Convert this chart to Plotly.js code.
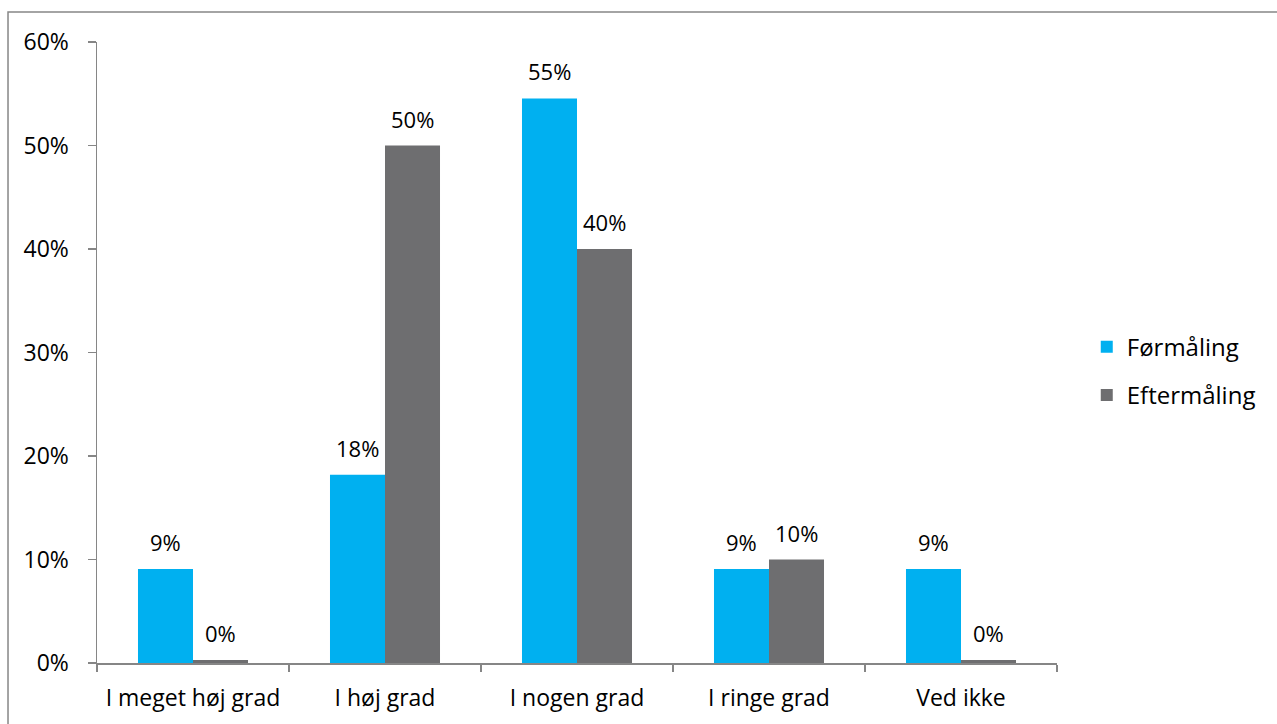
<!DOCTYPE html>
<html>
<head>
<meta charset="utf-8">
<script src="https://cdn.plot.ly/plotly-3.0.1.min.js"></script>
<style>
  html, body { margin: 0; padding: 0; background: #fff; }
  #chart { width: 1277px; height: 724px; }
</style>
</head>
<body>
<div id="chart"></div>
<script>
const categories = ["I meget høj grad", "I høj grad", "I nogen grad", "I ringe grad", "Ved ikke"];
const formaaling = [9.09, 18.18, 54.55, 9.09, 9.09];
const eftermaaling = [0.3, 50, 40, 10, 0.3];
const seriesNames = ["Førmåling", "Eftermåling"];
const yTickVals = [0, 10, 20, 30, 40, 50, 60];
const yTickText = ["0%", "10%", "20%", "30%", "40%", "50%", "60%"];

const FONT = "Open Sans, Liberation Sans, sans-serif";
const colors = ["#00B0F0", "#6E6E70"];

const traces = [
  { type: "bar", name: seriesNames[0], x: categories, y: formaaling,
    marker: { color: colors[0] }, legendgroup: "a", hoverinfo: "skip" },
  { type: "bar", name: seriesNames[1], x: categories, y: eftermaaling,
    marker: { color: colors[1] }, legendgroup: "b", hoverinfo: "skip" }
];

const annotations = [];
[formaaling, eftermaaling].forEach((vals, s) => {
  vals.forEach((v, i) => {
    annotations.push({
      x: categories[i], y: v, xref: "x", yref: "y",
      text: Math.round(v) + "%", showarrow: false,
      xanchor: "center", yanchor: "bottom",
      xshift: s === 0 ? -27.5 : 27.5, yshift: 10,
      font: { family: FONT, size: 22, color: "#000" }
    });
  });
});

const layout = {
  width: 1277, height: 724,
  margin: { l: 97, r: 220, t: 42, b: 61 },
  paper_bgcolor: "#fff", plot_bgcolor: "#fff",
  barmode: "group", bargap: 0.427, bargroupgap: 0,
  showlegend: true,
  legend: {
    x: 1.031, xanchor: "left", y: 0.47, yanchor: "middle",
    font: { family: FONT, size: 24, color: "#000" },
    traceorder: "grouped", tracegroupgap: 14,
    itemclick: false
  },
  xaxis: {
    type: "category",
    showline: true, linecolor: "#868686", linewidth: 1.5,
    ticks: "outside", tickson: "boundaries", ticklen: 7, tickcolor: "#868686", tickwidth: 1.5,
    tickfont: { family: FONT, size: 23, color: "#000" },
    ticklabelstandoff: 14,
    showgrid: false, zeroline: false, fixedrange: true
  },
  yaxis: {
    range: [0, 60],
    tickvals: yTickVals, ticktext: yTickText,
    showline: true, linecolor: "#868686", linewidth: 1.5,
    ticks: "outside", ticklen: 8, tickcolor: "#868686", tickwidth: 1.5,
    tickfont: { family: FONT, size: 23, color: "#000" },
    ticklabelstandoff: 14,
    showgrid: false, zeroline: false, fixedrange: true
  },
  annotations: annotations,
  shapes: [{
    type: "rect", xref: "paper", yref: "paper",
    x0: -0.0927, x1: 1.3, y0: -0.3, y1: 1.0483,
    line: { color: "#878787", width: 1.5 }, fillcolor: "rgba(0,0,0,0)"
  }]
};

Plotly.newPlot("chart", traces, layout, { displayModeBar: false, staticPlot: true });
</script>
</body>
</html>
